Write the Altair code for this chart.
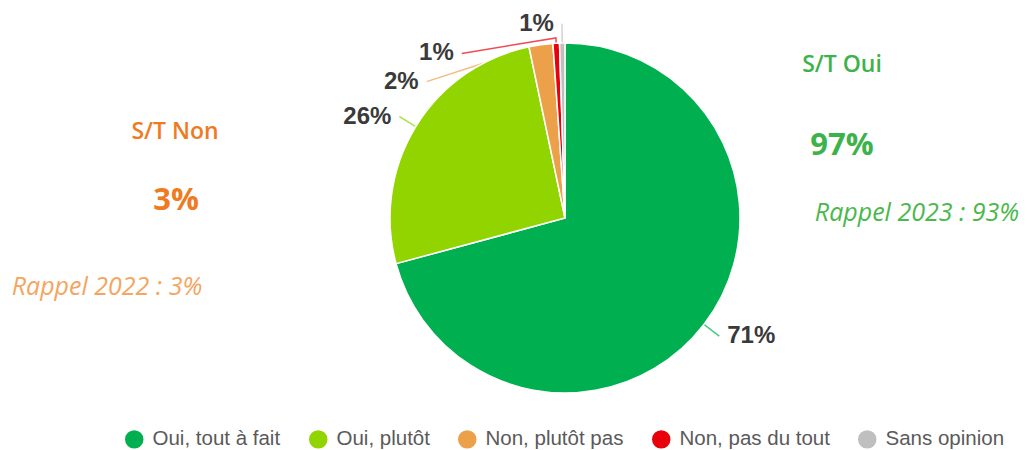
import math
import altair as alt
import pandas as pd

# ---------------- data ----------------
categories = ["Oui, tout à fait", "Oui, plutôt", "Non, plutôt pas", "Non, pas du tout", "Sans opinion"]
values = [70.8, 25.9, 2.2, 0.6, 0.5]
labels = ["71%", "26%", "2%", "1%", "1%"]
colors = ["#00B050", "#92D400", "#EDA04A", "#E8000B", "#BFBFBF"]

# ---------------- layout ----------------
W, H = 1011, 442
CX, CY, R = 557, 210, 175          # pie centre (plot px) and radius (px)
LABEL_R = 1.11                      # leader-line end, in pie radii
label_angle_override = {"Non, plutôt pas": 314.6, "Non, pas du tout": 327.9}
elbow_r = {"Non, pas du tout": 1.03}

xs = alt.Scale(domain=[-CX / R, (W - CX) / R], nice=False, zero=False)
ys = alt.Scale(domain=[-(H - CY) / R, CY / R], nice=False, zero=False)

df = pd.DataFrame({"category": categories, "value": values, "idx": list(range(len(values)))})

total = sum(values)
cum = 0.0
lead_rows, lab_rows = [], []
for cat, v, t, col in zip(categories, values, labels, colors):
    mid = (cum + v / 2) / total * 360
    cum += v
    ang = label_angle_override.get(cat, mid)
    pts = [(mid, 1.0)]
    if cat in elbow_r:
        pts.append((mid, elbow_r[cat]))
    pts.append((ang, LABEL_R))
    for j, (a, r) in enumerate(pts):
        lead_rows.append({"lid": cat, "seq": j,
                          "ux": r * math.sin(math.radians(a)),
                          "uy": r * math.cos(math.radians(a)),
                          "lcolor": col})
    lab_rows.append({"text": t,
                     "ux": LABEL_R * math.sin(math.radians(ang)),
                     "uy": LABEL_R * math.cos(math.radians(ang)),
                     "side": "right" if 0 < ang < 180 else "left"})

lead_df = pd.DataFrame(lead_rows)
lab_df = pd.DataFrame(lab_rows)

leaders = alt.Chart(lead_df).mark_line(strokeWidth=1.5, opacity=0.7).encode(
    x=alt.X("ux:Q", scale=xs, axis=None),
    y=alt.Y("uy:Q", scale=ys, axis=None),
    detail="lid:N",
    order="seq:Q",
    stroke=alt.Stroke("lcolor:N", scale=None),
)

arcs = alt.Chart(df).mark_arc(outerRadius=R, stroke="white", strokeWidth=1.5).encode(
    theta=alt.Theta("value:Q", stack=True),
    order=alt.Order("idx:Q"),
    color=alt.Color(
        "category:N",
        sort=categories,
        scale=alt.Scale(domain=categories, range=colors),
        legend=alt.Legend(
            orient="none", legendX=116, legendY=421, direction="horizontal",
            title=None, symbolType="circle", symbolSize=340, symbolStrokeWidth=0,
            labelFontSize=20.5, labelFont="Liberation Sans", labelColor="#5A5A5A",
            labelOffset=8, columnPadding=27, padding=0, labelLimit=0,
        ),
    ),
    x=alt.value(CX),
    y=alt.value(CY),
)

lab_style = dict(baseline="middle", font="Liberation Sans", fontSize=24,
                 fontWeight="bold", color="#3A3A3A")
lab_right = alt.Chart(lab_df).transform_filter(alt.datum.side == "right").mark_text(
    align="left", dx=8, **lab_style).encode(
    x=alt.X("ux:Q", scale=xs, axis=None), y=alt.Y("uy:Q", scale=ys, axis=None), text="text:N")
lab_left = alt.Chart(lab_df).transform_filter(alt.datum.side == "left").mark_text(
    align="right", dx=-8, **lab_style).encode(
    x=alt.X("ux:Q", scale=xs, axis=None), y=alt.Y("uy:Q", scale=ys, axis=None), text="text:N")


def note(text, x, y, **style):
    return alt.Chart(pd.DataFrame({"t": [text]})).mark_text(
        align="center", baseline="middle", font="Open Sans", **style
    ).encode(text="t:N", x=alt.value(x), y=alt.value(y))


notes = [
    note("S/T Non", 167, 124, fontSize=23, fontWeight=600, color="#EE7B22"),
    note("3%", 168, 193, fontSize=31, fontWeight="bold", color="#EE7B22"),
    note("Rappel 2022 : 3%", 99, 279, fontSize=25, fontStyle="italic", color="#F4A560"),
    note("S/T Oui", 834, 57, fontSize=23, fontWeight=600, color="#3CB34A"),
    note("97%", 834, 138, fontSize=31, fontWeight="bold", color="#3CB34A"),
    note("Rappel 2023 : 93%", 909, 205, fontSize=25, fontStyle="italic", color="#4AB84C"),
]

chart = alt.layer(leaders, arcs, lab_right, lab_left, *notes).properties(
    width=W, height=H, autosize=alt.AutoSizeParams(type="none"), padding=0,
    background="white",
).configure_view(stroke=None)

chart.save("out.html", embed_options={"renderer": "svg", "actions": False})
